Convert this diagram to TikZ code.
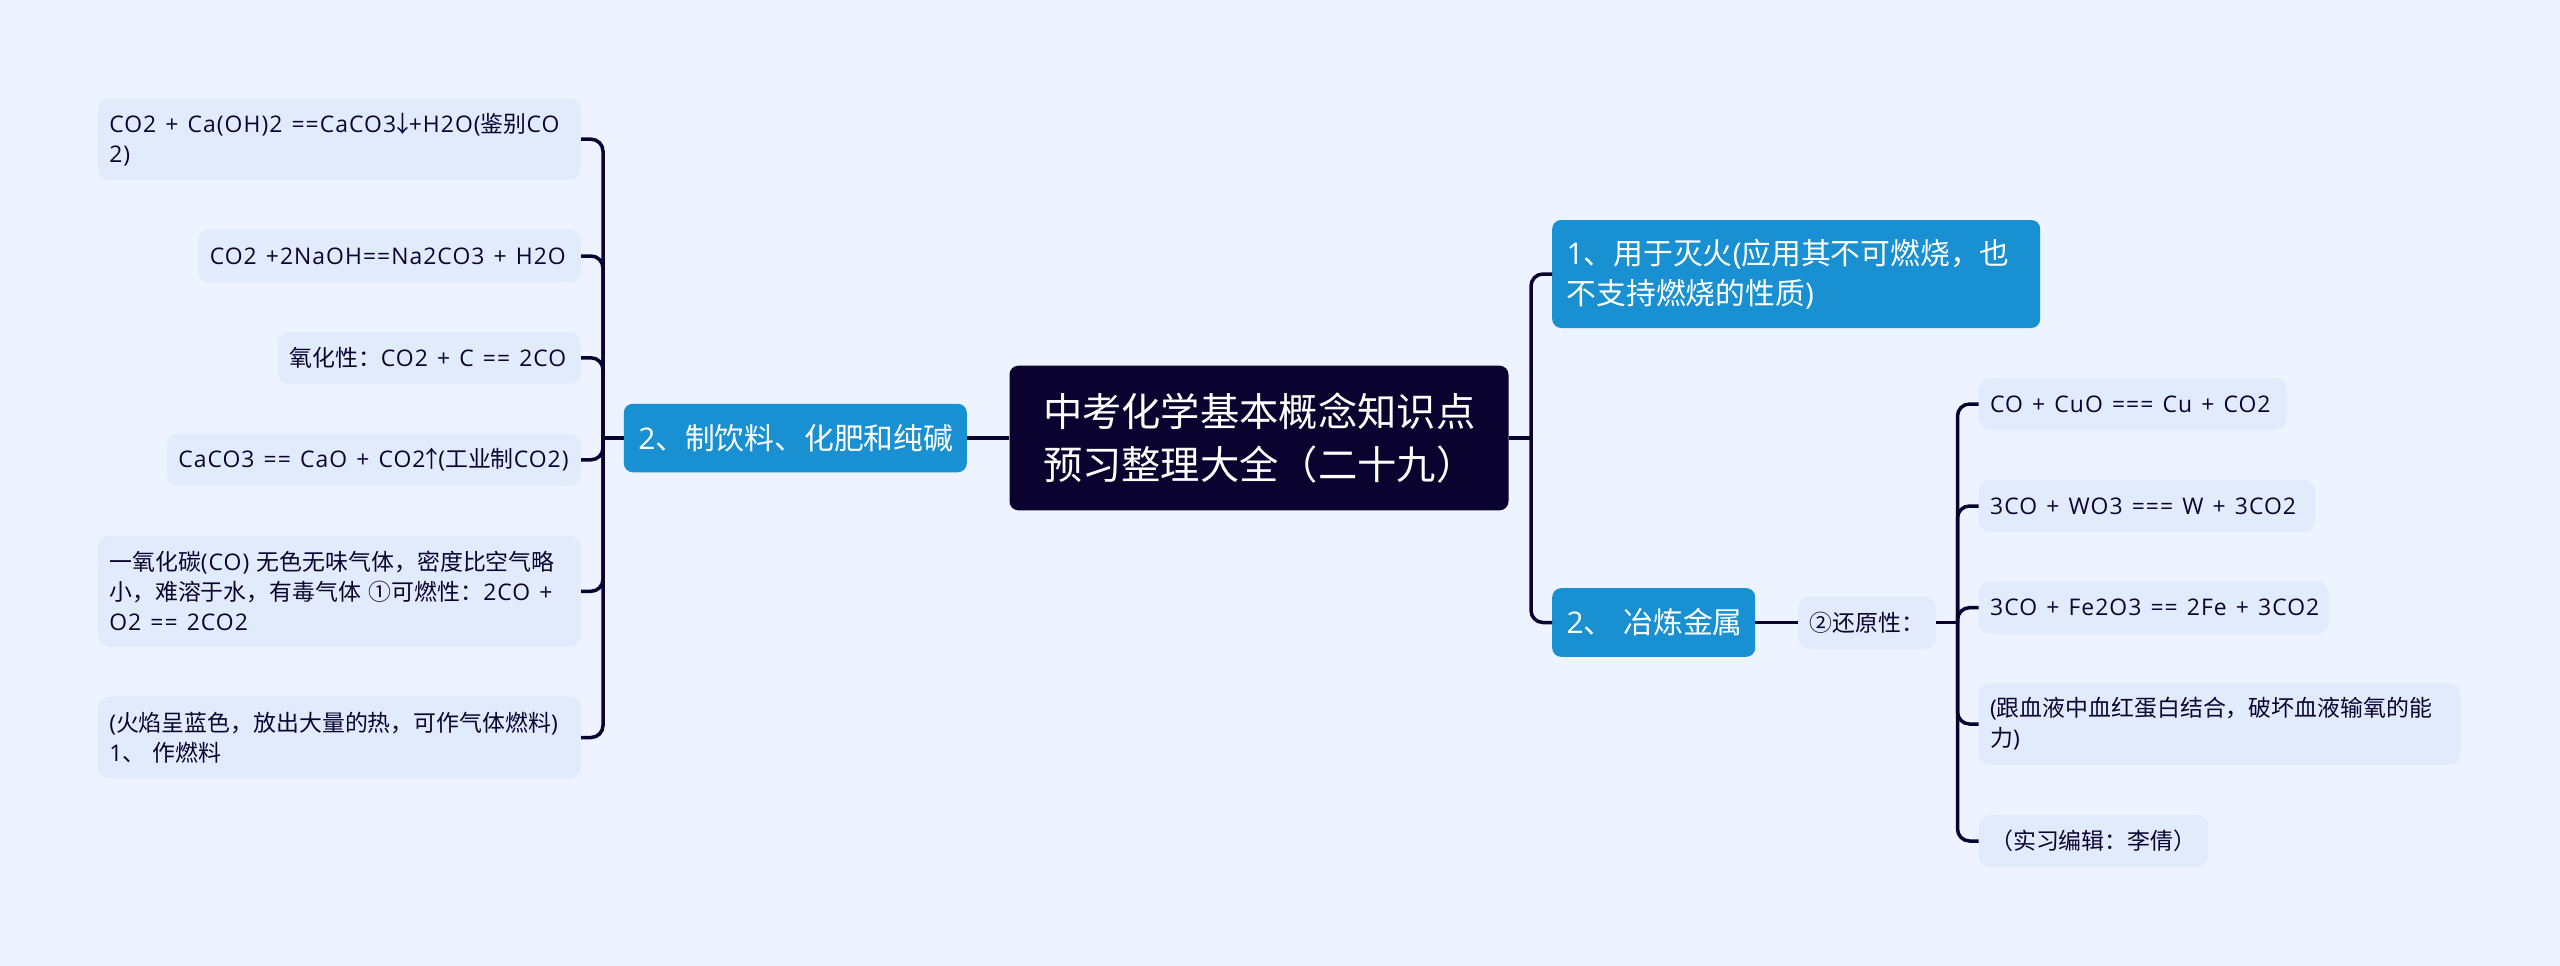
\documentclass[tikz,border=0pt]{standalone}
\usepackage{fontspec}
\setmainfont{Noto Sans CJK SC}
\newfontfamily\latfont[LetterSpace=4.5]{Open Sans}
\newcommand{\lat}[1]{\mbox{\latfont\spaceskip=0.4em\relax #1}}
\newcommand{\thinarrow}[1]{\kern-0.22em #1\kern-0.22em }
\usepackage{xcolor}
\usetikzlibrary{positioning}
\definecolor{pagecol}{HTML}{EDF3FF}
\definecolor{leafcol}{HTML}{E2EBFC}
\definecolor{rootcol}{HTML}{0A0330}
\definecolor{branchcol}{HTML}{1890D2}
\tikzset{
  leafnode/.style={fill=leafcol,rounded corners=11pt,text=rootcol,align=left,
    font=\fontsize{22.9}{30}\selectfont,inner xsep=11.5pt,inner ysep=0pt,text width=#1},
  branchnode/.style={fill=branchcol,rounded corners=9pt,text=white,align=left,
    font=\fontsize{29.8}{40}\selectfont,inner xsep=14.5pt,inner ysep=0pt,text width=#1},
  rootnode/.style={fill=rootcol,rounded corners=9pt,text=white,align=left,
    font=\fontsize{39.3}{53}\selectfont,inner xsep=33.5pt,inner ysep=0pt,text width=#1},
  link/.style={draw=rootcol,line width=3.5pt,rounded corners=12pt},
}
\begin{document}
\begin{tikzpicture}[x=1pt,y=-1pt]
  \fill[pagecol] (0,0) rectangle (2560,966);
  \node[rootnode=432pt,minimum height=144.7pt] (root) at (1259,438) {中考化学基本概念知识点\\预习整理大全（二十九）};
  \node[branchnode=314pt,minimum height=68.5pt,anchor=east] (drink) at (967,438) {\lat{2}、制饮料、化肥和纯碱};
  \node[branchnode=459pt,minimum height=108pt,anchor=west] (fire) at (1552,274) {\lat{1}、用于灭火\lat{(}应用其不可燃烧，也\\不支持燃烧的性质\lat{)}};
  \node[branchnode=174pt,minimum height=68.7pt,anchor=west] (metal) at (1552,622.5) {\lat{2}、~冶炼金属};
  \node[leafnode=115pt,minimum height=52pt,anchor=west] (reduce) at (1798,622.5) {②还原性：};

  \node[leafnode=460pt,minimum height=81.7pt,anchor=east] (caoh) at (581,139.2) {\lat{CO2 + Ca(OH)2 ==CaCO3}\thinarrow{↓}\lat{+H2O(}鉴别\lat{CO}\\\lat{2)}};
  \node[leafnode=359.5pt,minimum height=52pt,anchor=east] (naoh) at (581,256) {\lat{CO2 +2NaOH==Na2CO3 + H2O}};
  \node[leafnode=280pt,minimum height=52pt,anchor=east] (oxid) at (581,357.8) {氧化性：\lat{CO2 + C == 2CO}};
  \node[leafnode=391pt,minimum height=52pt,anchor=east] (caco) at (581,459.8) {\lat{CaCO3 == CaO + CO2}\thinarrow{↑}\lat{(}工业制\lat{CO2)}};
  \node[leafnode=460pt,minimum height=110.7pt,anchor=east] (gas) at (581,591.3) {一氧化碳\lat{(CO)}~无色无味气体，密度比空气略\\小，难溶于水，有毒气体~①可燃性：\lat{2CO +}\\\lat{O2 == 2CO2}};
  \node[leafnode=460pt,minimum height=81.7pt,anchor=east] (fuel) at (581,737.5) {\lat{(}火焰呈蓝色，放出大量的热，可作气体燃料\lat{)}\\\lat{1}、 作燃料};

  \node[leafnode=285pt,minimum height=52pt,anchor=west] (cuo) at (1978.5,404) {\lat{CO + CuO === Cu + CO2}};
  \node[leafnode=313.5pt,minimum height=52pt,anchor=west] (wo) at (1978.5,506) {\lat{3CO + WO3 === W + 3CO2}};
  \node[leafnode=327pt,minimum height=52pt,anchor=west] (feo) at (1978.5,607.7) {\lat{3CO + Fe2O3 == 2Fe + 3CO2}};
  \node[leafnode=459pt,minimum height=82pt,anchor=west] (blood) at (1978.5,724) {\lat{(}跟血液中血红蛋白结合，破坏血液输氧的能\\力\lat{)}};
  \node[leafnode=206.5pt,minimum height=52pt,anchor=west] (editor) at (1978.5,841) {（实习编辑：李倩）};

  \coordinate (spineL) at (603,438);
  \coordinate (spineR) at (1531,438);
  \coordinate (spineM) at (1957.5,622.5);

  \draw[link] (root.west) -- (drink.east);
  \draw[link] (drink.west) -- (spineL);
  \foreach \leaf in {caoh,naoh,oxid,caco,gas,fuel}{
    \draw[link] (spineL) |- (\leaf.east);
  }
  \draw[link] (root.east) -- (spineR);
  \foreach \leaf in {fire,metal}{
    \draw[link] (spineR) |- (\leaf.west);
  }
  \draw[link] (metal.east) -- (reduce.west);
  \draw[link] (reduce.east) -- (spineM);
  \foreach \leaf in {cuo,wo,feo,blood,editor}{
    \draw[link] (spineM) |- (\leaf.west);
  }
\end{tikzpicture}
\end{document}
